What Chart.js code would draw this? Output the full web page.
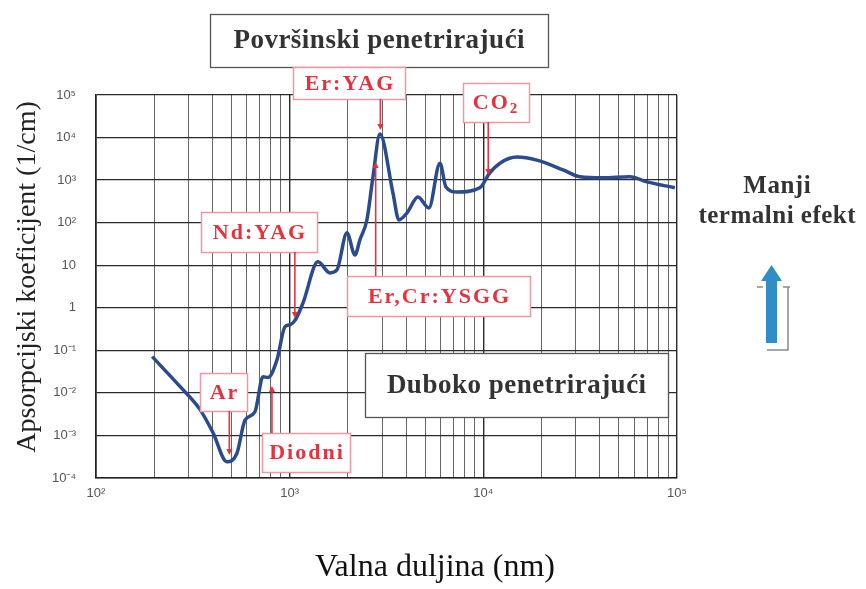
<!DOCTYPE html>
<html>
<head>
<meta charset="utf-8">
<script src="https://cdn.jsdelivr.net/npm/chart.js@4.4.1/dist/chart.umd.min.js"></script>
<style>
  html, body { margin: 0; padding: 0; background: #fff; }
  #wrap { width: 866px; height: 589px; }
</style>
</head>
<body>
<div id="wrap"><canvas id="absChart" width="866" height="589"></canvas></div>
<script>
// wavelength (nm) and absorption coefficient (1/cm)
const wavelengths = [195, 272, 344, 402, 474, 535, 588, 662, 728, 773, 860, 946, 1005, 1070, 1172,
  1400, 1614, 1755, 1976, 2173, 2307, 2506, 2692, 2924, 3413, 3664, 4035, 4596, 5236, 5970,
  6410, 7310, 9590, 10800, 12190, 14900, 18900, 25800, 31500, 41400, 57100, 70000, 97500];
const absorption = [0.071, 0.014, 0.0041, 0.00116, 0.00024, 0.00039, 0.0023, 0.0036, 0.024, 0.023, 0.06, 0.36, 0.4, 0.52, 1.3,
  12, 6.6, 7.8, 58, 17.5, 40, 117, 1190, 12200, 500, 116, 170, 400, 222, 2500,
  690, 525, 660, 1480, 2500, 3470, 2950, 1740, 1200, 1130, 1200, 910, 660];

const xTickValues = [100, 1000, 10000, 100000];
const xTickLabels = ['10²', '10³', '10⁴', '10⁵'];
const yTickValues = [1e-4, 1e-3, 1e-2, 1e-1, 1, 10, 100, 1000, 10000, 100000];
const yTickLabels = ['10⁻⁴', '10⁻³', '10⁻²', '10⁻¹', '1', '10', '10²', '10³', '10⁴', '10⁵'];

const laserNames = ['Ar', 'Diodni', 'Nd:YAG', 'Er,Cr:YSGG', 'Er:YAG', 'CO₂'];
const laserWavelengths = [488, 810, 1064, 2780, 2940, 10600];

const yTitle = 'Apsorpcijski koeficijent (1/cm)';
const xTitle = 'Valna duljina (nm)';
const topRegion = 'Površinski penetrirajući';
const bottomRegion = 'Duboko penetrirajući';
const sideNote = ['Manji', 'termalni efekt'];

// minor grid on x: 1..9 per decade
const xGrid = [];
for (let d = 100; d < 100000; d *= 10) {
  for (let m = 1; m < 10; m++) xGrid.push(m * d);
}
xGrid.push(100000);

// where each laser label sits (box in px, arrow end y in px)
const laserLayout = [
  { box: [200, 373, 47, 38], from: 411, to: 455 },
  { box: [262, 433, 88, 39], from: 433, to: 386 },
  { box: [201, 212, 116, 40], from: 252, to: 318 },
  { box: [347, 276, 183, 40], from: 276, to: 162 },
  { box: [293, 67, 112, 32], from: 99, to: 130 },
  { box: [463, 83, 66, 39], from: 122, to: 175 }
];

const RED = '#e5323f';
const PINK = '#ef98a2';
const DARK = '#333';

function drawText(ctx, text, x, y, font, color, spacing) {
  ctx.save();
  ctx.font = font;
  ctx.fillStyle = color;
  ctx.textAlign = 'left';
  ctx.textBaseline = 'middle';
  ctx.letterSpacing = (spacing || 0) + 'px';
  if (text.indexOf('₂') >= 0) {
    const base = text.replace('₂', '');
    const w1 = ctx.measureText(base).width;
    const smallFont = font.replace(/(\d+)px/, (m, s) => Math.round(s * 0.7) + 'px');
    ctx.font = smallFont;
    const w2 = ctx.measureText('2').width;
    const start = x - (w1 + w2) / 2;
    ctx.font = font;
    ctx.fillText(base, start, y);
    ctx.font = smallFont;
    ctx.fillText('2', start + w1, y + 6);
  } else {
    const w = ctx.measureText(text).width - (spacing || 0);
    ctx.fillText(text, x - w / 2, y);
  }
  ctx.restore();
}

function arrow(ctx, x, y1, y2) {
  const dir = y2 > y1 ? 1 : -1;
  ctx.save();
  ctx.strokeStyle = RED;
  ctx.fillStyle = RED;
  ctx.lineWidth = 1.6;
  ctx.beginPath();
  ctx.moveTo(x, y1);
  ctx.lineTo(x, y2 - dir * 4);
  ctx.stroke();
  ctx.beginPath();
  ctx.moveTo(x, y2);
  ctx.lineTo(x - 3, y2 - dir * 6);
  ctx.lineTo(x + 3, y2 - dir * 6);
  ctx.closePath();
  ctx.fill();
  ctx.restore();
}

const decorations = {
  id: 'decorations',
  afterDatasetsDraw(chart) {
    const ctx = chart.ctx;
    const xs = chart.scales.x;

    // region boxes
    const regions = [
      { text: topRegion, r: [210, 14, 338, 53] },
      { text: bottomRegion, r: [365, 353, 303, 64] }
    ];
    regions.forEach(g => {
      const [x, y, w, h] = g.r;
      ctx.save();
      ctx.fillStyle = '#fff';
      ctx.fillRect(x, y, w, h);
      ctx.strokeStyle = '#555';
      ctx.lineWidth = 1.3;
      ctx.strokeRect(x + 0.5, y + 0.5, w, h);
      ctx.restore();
      drawText(ctx, g.text, x + w / 2, y + h / 2 + 1, 'bold 27px "Liberation Serif"', DARK, 0.5);
    });

    // laser labels
    laserNames.forEach((name, i) => {
      const L = laserLayout[i];
      const [x, y, w, h] = L.box;
      const ax = xs.getPixelForValue(laserWavelengths[i]);
      ctx.save();
      ctx.fillStyle = '#fff';
      ctx.fillRect(x, y, w, h);
      ctx.strokeStyle = PINK;
      ctx.lineWidth = 1.5;
      ctx.strokeRect(x + 0.5, y + 0.5, w, h);
      ctx.restore();
      drawText(ctx, name, x + w / 2, y + h / 2 + 1, 'bold 22px "Liberation Serif"', RED, 2);
      arrow(ctx, ax, L.from, L.to);
    });
  },
  afterDraw(chart) {
    const ctx = chart.ctx;

    // y axis title
    ctx.save();
    ctx.translate(28, 277);
    ctx.rotate(-Math.PI / 2);
    ctx.font = '28px "Liberation Serif"';
    ctx.fillStyle = '#222';
    ctx.textAlign = 'center';
    ctx.textBaseline = 'middle';
    ctx.fillText(yTitle, 0, 0);
    ctx.restore();

    // x axis title
    ctx.save();
    ctx.font = '32px "Liberation Serif"';
    ctx.fillStyle = '#111';
    ctx.textAlign = 'center';
    ctx.textBaseline = 'middle';
    ctx.fillText(xTitle, 435, 568);
    ctx.restore();

    // side note
    drawText(ctx, sideNote[0], 777, 187, 'bold 25px "Liberation Serif"', DARK, 0.5);
    drawText(ctx, sideNote[1], 777, 217, 'bold 25px "Liberation Serif"', DARK, 0.5);

    // blue arrow with gray bracket
    ctx.save();
    ctx.strokeStyle = '#8a8a8a';
    ctx.lineWidth = 1.5;
    ctx.beginPath();
    ctx.moveTo(757, 287); ctx.lineTo(763, 287);
    ctx.moveTo(783, 287); ctx.lineTo(790, 287);
    ctx.moveTo(788, 287); ctx.lineTo(788, 350); ctx.lineTo(767, 350);
    ctx.stroke();
    ctx.fillStyle = '#2f8fc4';
    ctx.fillRect(766, 278, 11, 65);
    ctx.beginPath();
    ctx.moveTo(771.5, 265);
    ctx.lineTo(761, 281);
    ctx.lineTo(782, 281);
    ctx.closePath();
    ctx.fill();
    ctx.restore();
  }
};

const isDecade = v => xTickValues.indexOf(v) >= 0 || yTickValues.indexOf(v) >= 0;

new Chart(document.getElementById('absChart'), {
  type: 'scatter',
  data: {
    datasets: [{
      data: wavelengths.map((w, i) => ({ x: w, y: absorption[i] })),
      showLine: true,
      borderColor: '#2a4b8d',
      borderWidth: 3.5,
      pointRadius: 0,
      cubicInterpolationMode: 'monotone',
      fill: false
    }]
  },
  options: {
    responsive: false,
    animation: false,
    layout: { padding: { left: 0, top: 95, right: 189, bottom: 0 } },
    plugins: { legend: { display: false }, tooltip: { enabled: false } },
    scales: {
      x: {
        type: 'logarithmic',
        min: 100,
        max: 100000,
        afterBuildTicks: s => { s.ticks = xGrid.map(v => ({ value: v })); },
        afterFit: s => { s.height = 111; },
        ticks: {
          autoSkip: false,
          maxRotation: 0,
          padding: 8,
          color: '#555',
          font: { family: '"Liberation Sans"', size: 13 },
          callback: v => { const i = xTickValues.indexOf(v); return i >= 0 ? xTickLabels[i] : ''; }
        },
        grid: {
          drawTicks: false,
          color: c => (c.tick && isDecade(c.tick.value)) ? '#2a2a2a' : '#666',
          lineWidth: c => (c.tick && isDecade(c.tick.value)) ? 1.4 : 1
        },
        border: { color: '#222', width: 1.6 }
      },
      y: {
        type: 'logarithmic',
        min: 1e-4,
        max: 1e5,
        afterBuildTicks: s => { s.ticks = yTickValues.map(v => ({ value: v })); },
        afterFit: s => { s.width = 96; },
        ticks: {
          autoSkip: false,
          padding: 20,
          color: '#555',
          font: { family: '"Liberation Sans"', size: 13 },
          callback: v => { const i = yTickValues.indexOf(v); return i >= 0 ? yTickLabels[i] : ''; }
        },
        grid: {
          drawTicks: false,
          color: '#2a2a2a',
          lineWidth: 1.3
        },
        border: { color: '#222', width: 1.6 }
      }
    }
  },
  plugins: [decorations]
});
</script>
</body>
</html>
